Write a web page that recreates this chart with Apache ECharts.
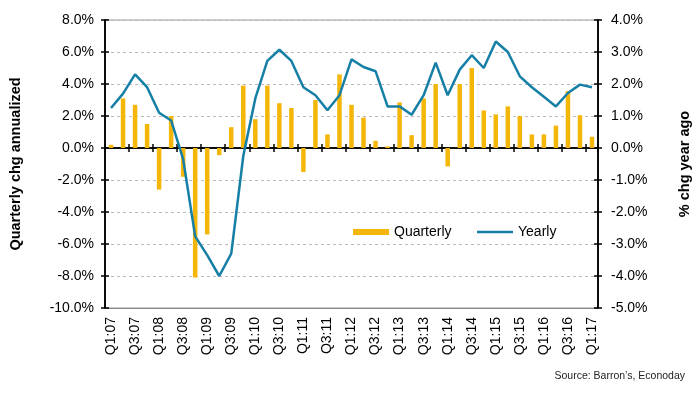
<!DOCTYPE html>
<html>
<head>
<meta charset="utf-8">
<script src="https://cdn.jsdelivr.net/npm/echarts@6/dist/echarts.min.js"></script>
<style>html,body{margin:0;padding:0;background:#fff;}#c{width:700px;height:394px;}</style>
</head>
<body>
<div id="c"></div>
<script>
const categories = ['Q1:07','Q2:07','Q3:07','Q4:07','Q1:08','Q2:08','Q3:08','Q4:08','Q1:09','Q2:09','Q3:09','Q4:09','Q1:10','Q2:10','Q3:10','Q4:10','Q1:11','Q2:11','Q3:11','Q4:11','Q1:12','Q2:12','Q3:12','Q4:12','Q1:13','Q2:13','Q3:13','Q4:13','Q1:14','Q2:14','Q3:14','Q4:14','Q1:15','Q2:15','Q3:15','Q4:15','Q1:16','Q2:16','Q3:16','Q4:16','Q1:17'];
const quarterly = [0.2,3.1,2.7,1.5,-2.6,2.0,-1.8,-8.1,-5.4,-0.45,1.3,3.9,1.8,3.9,2.8,2.5,-1.5,3.0,0.85,4.6,2.7,1.9,0.45,0.1,2.85,0.8,3.1,4.0,-1.15,4.0,5.0,2.35,2.1,2.6,2.0,0.85,0.85,1.4,3.55,2.05,0.7];
const yearly = [1.25,1.7,2.3,1.9,1.1,0.86,-0.35,-2.76,-3.35,-4.0,-3.3,-0.25,1.55,2.72,3.07,2.72,1.9,1.65,1.18,1.65,2.77,2.53,2.4,1.3,1.3,1.04,1.65,2.67,1.65,2.45,2.9,2.5,3.33,3.0,2.24,1.9,1.6,1.3,1.72,1.98,1.9];
const leftTicks = {min:-10, max:8, interval:2};
const rightTicks = {min:-5, max:4, interval:1};

const FONT = 'Liberation Sans, Arial, sans-serif';
const pct = v => v.toFixed(1) + '%';
const chart = echarts.init(document.getElementById('c'));
const blackLine = {show:true, lineStyle:{color:'#000', width:1.5}};
const tickSt = {color:'#000', width:1.5};
const BAR = '#F5B60A', LINE = '#167FA6';

chart.setOption({
  animation:false,
  textStyle:{fontFamily:FONT},
  grid:{left:99, right:96, top:20, bottom:86, show:true, borderColor:'#999', borderWidth:1},
  legend:[
    {left:348, top:220, itemWidth:36, itemHeight:6,
     textStyle:{fontSize:14, color:'#000', fontFamily:FONT},
     data:[{name:'Quarterly', icon:'rect'}]},
    {left:472, top:220, itemWidth:36, itemHeight:2.5,
     textStyle:{fontSize:14, color:'#000', fontFamily:FONT},
     data:[{name:'Yearly', icon:'rect', itemStyle:{color:LINE}}]}
  ],
  xAxis:[
    {type:'category', data:categories, position:'bottom', boundaryGap:true,
     axisLine:{onZero:false, lineStyle:{color:'#888', width:1}}, axisTick:{show:false},
     axisLabel:{rotate:90, interval:1, fontSize:14, color:'#000', margin:9, fontFamily:FONT},
     splitLine:{show:false}},
    {type:'category', data:categories, position:'top', boundaryGap:true,
     axisLine:{onZero:true, show:true, lineStyle:{color:'#000', width:1.5}},
     axisTick:{show:true, interval:1, length:4, lineStyle:tickSt},
     axisLabel:{show:false}, splitLine:{show:false}},
    {type:'category', data:categories, position:'bottom', boundaryGap:true,
     axisLine:{onZero:true, show:true, lineStyle:{color:'#000', width:1.5}},
     axisTick:{show:true, interval:1, length:4, lineStyle:tickSt},
     axisLabel:{show:false}, splitLine:{show:false}}
  ],
  yAxis:[
    {type:'value', position:'left', min:leftTicks.min, max:leftTicks.max, interval:leftTicks.interval,
     axisLine:blackLine, axisTick:{show:true, length:4, lineStyle:tickSt},
     axisLabel:{formatter:pct, fontSize:14, color:'#000', margin:11, fontFamily:FONT},
     splitLine:{show:true, lineStyle:{color:'#bbb', type:[3,3], width:1}},
     name:'Quarterly chg annualized', nameLocation:'middle', nameRotate:90, nameGap:82,
     nameTextStyle:{fontSize:14.5, fontWeight:'bold', color:'#000', fontFamily:FONT}},
    {type:'value', position:'right', min:rightTicks.min, max:rightTicks.max, interval:rightTicks.interval,
     axisLine:blackLine, axisTick:{show:true, length:4, lineStyle:tickSt},
     axisLabel:{formatter:pct, fontSize:14, color:'#000', margin:13, fontFamily:FONT},
     splitLine:{show:false},
     name:'% chg year ago', nameLocation:'middle', nameRotate:90, nameGap:79,
     nameTextStyle:{fontSize:14.5, fontWeight:'bold', color:'#000', fontFamily:FONT}},
    {type:'value', position:'left', min:leftTicks.min, max:leftTicks.max, interval:leftTicks.interval,
     axisLine:blackLine, axisTick:{show:true, inside:true, length:4, lineStyle:tickSt},
     axisLabel:{show:false}, splitLine:{show:false}},
    {type:'value', position:'right', min:rightTicks.min, max:rightTicks.max, interval:rightTicks.interval,
     axisLine:blackLine, axisTick:{show:true, inside:true, length:4, lineStyle:tickSt},
     axisLabel:{show:false}, splitLine:{show:false}}
  ],
  series:[
    {name:'Quarterly', type:'bar', xAxisIndex:0, yAxisIndex:0, data:quarterly, barWidth:4.5,
     itemStyle:{color:BAR}, z:2},
    {name:'Yearly', type:'line', xAxisIndex:0, yAxisIndex:1, data:yearly, symbol:'none', showSymbol:false,
     lineStyle:{color:LINE, width:2.5}, itemStyle:{color:LINE}, z:5}
  ],
  graphic:[
    {type:'text', right:15, top:371, style:{text:'Source: Barron\u2019s, Econoday', fontSize:10.5, fill:'#222', fontFamily:FONT}}
  ]
});
</script>
</body>
</html>
